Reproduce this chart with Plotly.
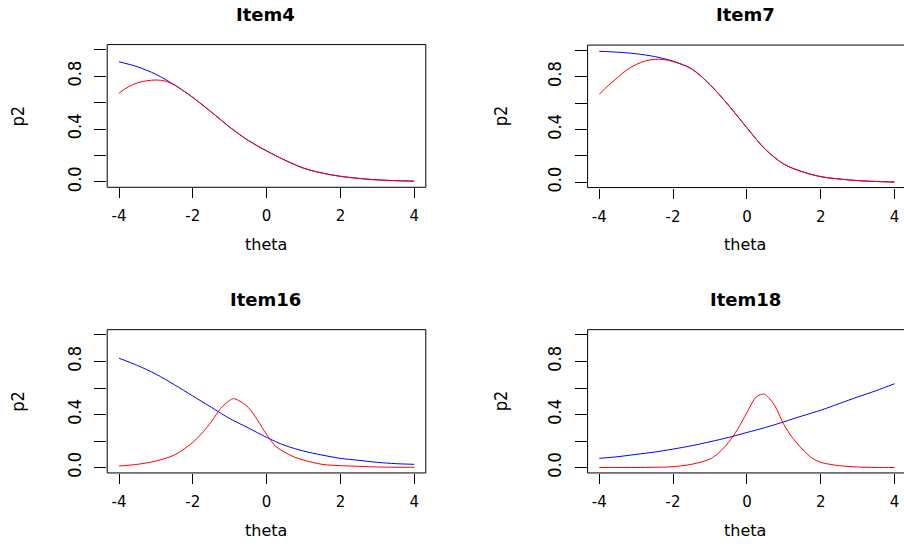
import plotly.graph_objects as go

# ---------------- data ----------------
theta_grid = [-4, -3.5, -3, -2.5, -2, -1.5, -1, -0.5, 0, 0.5, 1, 1.5, 2, 2.5, 3, 3.5, 4]

# Item4
item4_blue = [0.91, 0.872, 0.815, 0.735, 0.64, 0.53, 0.415, 0.315, 0.235, 0.165, 0.105,
              0.068, 0.043, 0.027, 0.016, 0.01, 0.006]
item4_red_theta = [-4, -3.75, -3.5, -3.25, -3, -2.75, -2.5, -2.25, -2, -1.5, -1, -0.5, 0,
                   0.5, 1, 1.5, 2, 2.5, 3, 3.5, 4]
item4_red = [0.672, 0.72, 0.75, 0.766, 0.772, 0.764, 0.735, 0.69, 0.64, 0.53, 0.415, 0.315,
             0.235, 0.165, 0.105, 0.068, 0.043, 0.027, 0.016, 0.01, 0.006]

# Item7
item7_blue = [0.993, 0.986, 0.974, 0.953, 0.918, 0.86, 0.74, 0.585, 0.413, 0.25, 0.138,
              0.08, 0.043, 0.025, 0.013, 0.006, 0.002]
item7_red_theta = [-4, -3.75, -3.5, -3.25, -3, -2.75, -2.5, -2.25, -2, -1.5, -1, -0.5, 0,
                   0.5, 1, 1.5, 2, 2.5, 3, 3.5, 4]
item7_red = [0.668, 0.735, 0.795, 0.852, 0.893, 0.92, 0.932, 0.93, 0.915, 0.86, 0.74, 0.585,
             0.413, 0.25, 0.138, 0.08, 0.043, 0.025, 0.013, 0.006, 0.002]

# Item16
item16_blue = [0.825, 0.77, 0.705, 0.625, 0.54, 0.455, 0.37, 0.30, 0.228, 0.167, 0.125,
               0.095, 0.07, 0.055, 0.04, 0.03, 0.025]
item16_red_theta = [-4, -3.5, -3, -2.5, -2, -1.75, -1.5, -1.25, -1, -0.9, -0.75, -0.5, -0.25,
                    0, 0.25, 0.5, 0.75, 1, 1.5, 2, 2.5, 3, 3.5, 4]
item16_red = [0.0125, 0.025, 0.05, 0.095, 0.19, 0.26, 0.345, 0.445, 0.507, 0.52, 0.505, 0.455,
              0.36, 0.25, 0.16, 0.115, 0.08, 0.057, 0.025, 0.015, 0.01, 0.005, 0.003, 0.003]

# Item18
item18_blue = [0.07, 0.0825, 0.10, 0.1175, 0.14, 0.165, 0.195, 0.2275, 0.265, 0.3025, 0.345,
               0.39, 0.4325, 0.4825, 0.5325, 0.58, 0.6325]
item18_red_theta = [-4, -3.5, -3, -2.5, -2, -1.5, -1, -0.75, -0.5, -0.25, 0, 0.25, 0.4, 0.5,
                    0.75, 1, 1.25, 1.5, 1.75, 2, 2.5, 3, 3.5, 4]
item18_red = [0.001, 0.001, 0.001, 0.0025, 0.0075, 0.025, 0.065, 0.115, 0.19, 0.29, 0.415,
              0.5325, 0.5525, 0.55, 0.47, 0.325, 0.22, 0.14, 0.075, 0.04, 0.015, 0.005, 0.001,
              0.001]

titles = ["Item4", "Item7", "Item16", "Item18"]
x_tickvals = [-4, -2, 0, 2, 4]
x_ticktext = ["-4", "-2", "0", "2", "4"]
y_tickvals = [0.0, 0.2, 0.4, 0.6, 0.8, 1.0]
y_ticktext = ["0.0", "", "0.4", "", "0.8", ""]
x_label = "theta"
y_label = "p2"

blue_series = [item4_blue, item7_blue, item16_blue, item18_blue]
red_thetas = [item4_red_theta, item7_red_theta, item16_red_theta, item18_red_theta]
red_series = [item4_red, item7_red, item16_red, item18_red]

# ---------------- layout geometry (pixels) ----------------
W, H = 904, 548
px_per_unit = 36.9
panels = [
    dict(l=107.2, r=425.8, t=45.0, b=189.0, cx=265.5, ylx=17.5, x4=119.0),
    dict(l=587.6, r=904.0, t=45.5, b=189.3, cx=745.0, ylx=500.0, x4=599.3),
    dict(l=107.2, r=425.8, t=332.7, b=477.3, cx=265.5, ylx=17.5, x4=119.0),
    dict(l=587.6, r=904.0, t=332.7, b=477.3, cx=745.0, ylx=500.0, x4=599.3),
]
title_y = [15.0, 15.0, 302.7, 302.7]
xlab_y = [246.7, 246.7, 535.0, 535.0]

fig = go.Figure()
BLUE = "#0000FF"
RED = "#FF0000"

tick_font = dict(family="DejaVu Sans, Liberation Sans, Arial", size=15, color="black")
ytick_font = dict(family="Liberation Sans Narrow, DejaVu Sans Condensed, Liberation Sans, Arial",
                  size=18, color="black")

annotations = []
shapes = []
for i, p in enumerate(panels):
    k = "" if i == 0 else str(i + 1)
    xa, ya = "x" + k, "y" + k
    fig.add_trace(go.Scatter(x=theta_grid, y=blue_series[i], mode="lines",
                             line=dict(color=BLUE, width=1, shape="spline", smoothing=0.9),
                             xaxis=xa, yaxis=ya, showlegend=False, hoverinfo="skip"))
    fig.add_trace(go.Scatter(x=red_thetas[i], y=red_series[i], mode="lines",
                             line=dict(color=RED, width=1, shape="spline", smoothing=0.9),
                             xaxis=xa, yaxis=ya, showlegend=False, hoverinfo="skip"))

    x0 = -4 - (p["x4"] - p["l"]) / px_per_unit
    x1 = x0 + (p["r"] - p["l"]) / px_per_unit
    fig.update_layout(**{
        "xaxis" + k: dict(domain=[p["l"] / W, p["r"] / W], range=[x0, x1], anchor=ya,
                          tickvals=x_tickvals, ticktext=x_ticktext, ticks="outside",
                          ticklen=10, tickwidth=1, tickcolor="black", showgrid=False,
                          zeroline=False, showline=False, tickfont=tick_font,
                          ticklabelstandoff=5),
        "yaxis" + k: dict(domain=[1 - p["b"] / H, 1 - p["t"] / H], range=[-0.04, 1.04],
                          anchor=xa, tickvals=y_tickvals, ticktext=y_ticktext, tickangle=-90,
                          ticks="outside", ticklen=12, tickwidth=1, tickcolor="black",
                          showgrid=False, zeroline=False, showline=False, tickfont=ytick_font,
                          ticklabelstandoff=6),
    })
    shapes.append(dict(type="rect", xref=xa + " domain", yref=ya + " domain",
                       x0=0, x1=1 if p["r"] < W else 1.05, y0=0, y1=1,
                       line=dict(color="black", width=1), fillcolor="rgba(0,0,0,0)"))
    annotations.append(dict(text="<b>" + titles[i] + "</b>", x=p["cx"] / W, y=1 - title_y[i] / H,
                            xref="paper", yref="paper", showarrow=False, xanchor="center",
                            yanchor="middle",
                            font=dict(family="DejaVu Sans, Arial", size=18, color="black")))
    annotations.append(dict(text=x_label, x=p["cx"] / W, y=1 - xlab_y[i] / H,
                            xref="paper", yref="paper", showarrow=False, xanchor="center",
                            yanchor="middle",
                            font=dict(family="DejaVu Sans, Arial", size=16, color="black")))
    annotations.append(dict(text=y_label, x=p["ylx"] / W, y=1 - (p["t"] + p["b"]) / 2 / H,
                            xref="paper", yref="paper", showarrow=False, xanchor="center",
                            yanchor="middle", textangle=-90, font=ytick_font))

fig.update_layout(width=W, height=H, margin=dict(l=0, r=0, t=0, b=0),
                  paper_bgcolor="white", plot_bgcolor="white",
                  annotations=annotations, shapes=shapes, showlegend=False)

fig.write_html("out.html")
